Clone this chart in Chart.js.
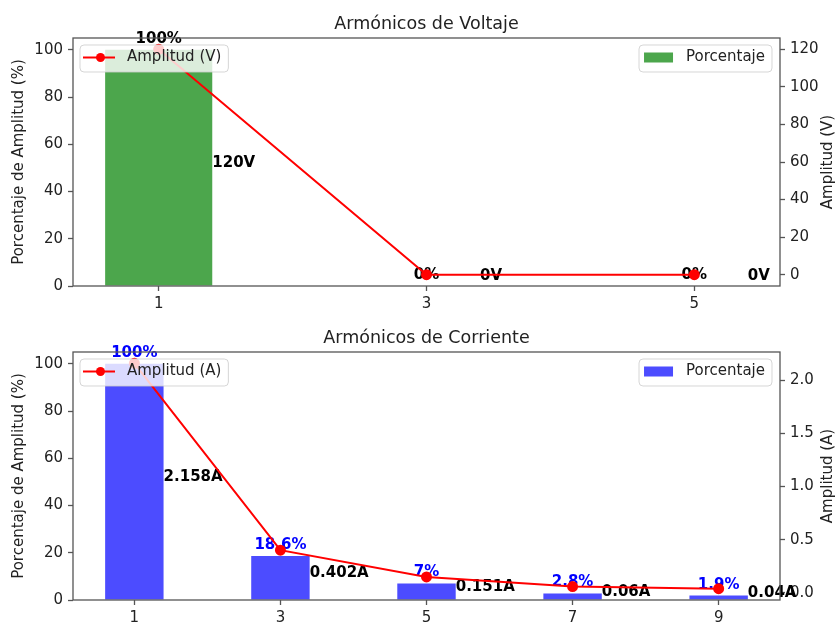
<!DOCTYPE html>
<html>
<head>
<meta charset="utf-8">
<script src="https://cdn.jsdelivr.net/npm/chart.js@4/dist/chart.umd.min.js"></script>
<style>
html,body{margin:0;padding:0;background:#fff;}
#wrap{position:relative;width:835px;height:622px;overflow:hidden;background:#fff;}
canvas{position:absolute;left:0;display:block;}
</style>
</head>
<body>
<div id="wrap">
  <canvas id="c1" width="835" height="311" style="top:0"></canvas>
  <canvas id="c2" width="835" height="311" style="top:311px"></canvas>
</div>
<script>
// ---------- data ----------
const voltHarmonics = [1, 3, 5];
const voltPercent   = [100, 0, 0];
const voltAmplitude = [120, 0, 0];
const voltTicksLeft  = [0, 20, 40, 60, 80, 100];
const voltTicksRight = [0, 20, 40, 60, 80, 100, 120];

const currHarmonics = [1, 3, 5, 7, 9];
const currPercent   = [100, 18.6, 7, 2.8, 1.9];
const currAmplitude = [2.158, 0.402, 0.151, 0.06, 0.04];
const currTicksLeft  = [0, 20, 40, 60, 80, 100];
const currTicksRight = [0, 0.5, 1.0, 1.5, 2.0];

const FONT = "'DejaVu Sans', 'Liberation Sans', sans-serif";
Chart.defaults.font.family = FONT;
Chart.defaults.font.size = 15;
Chart.defaults.color = '#222';

function roundRect(ctx, x, y, w, h, r) {
  ctx.beginPath();
  ctx.moveTo(x + r, y);
  ctx.lineTo(x + w - r, y);
  ctx.quadraticCurveTo(x + w, y, x + w, y + r);
  ctx.lineTo(x + w, y + h - r);
  ctx.quadraticCurveTo(x + w, y + h, x + w - r, y + h);
  ctx.lineTo(x + r, y + h);
  ctx.quadraticCurveTo(x, y + h, x, y + h - r);
  ctx.lineTo(x, y + r);
  ctx.quadraticCurveTo(x, y, x + r, y);
  ctx.closePath();
}

const mplPlugin = {
  id: 'mpl',
  beforeDatasetDraw(chart, args, opts) {
    if (args.index !== 0) return; // draw labels just before the line (on top of bars)
    const ctx = chart.ctx;
    const xs = chart.scales.x, ys = chart.scales.y;
    ctx.save();
    ctx.font = 'bold 15px ' + FONT;
    ctx.textBaseline = 'alphabetic';
    opts.x.forEach((xv, i) => {
      const px = xs.getPixelForValue(xv);
      const top = ys.getPixelForValue(opts.pct[i]);
      ctx.fillStyle = opts.pctColor;
      ctx.textAlign = 'center';
      ctx.fillText(opts.pct[i] + '%', px, top - 7);
      ctx.fillStyle = '#000';
      ctx.textAlign = 'left';
      const lx = xs.getPixelForValue(xv + 0.4);
      const ly = Math.min(ys.getPixelForValue(opts.pct[i] / 2) - 1, ys.getPixelForValue(0) - opts.minGap);
      ctx.fillText(opts.amp[i] + opts.unit, lx, ly);
    });
    ctx.restore();
  },
  afterDraw(chart, args, opts) {
    const ctx = chart.ctx;
    const a = chart.chartArea;
    ctx.save();
    // frame
    ctx.strokeStyle = '#555';
    ctx.lineWidth = 1.3;
    ctx.strokeRect(a.left, a.top, a.right - a.left, a.bottom - a.top);
    // title
    ctx.fillStyle = '#222';
    ctx.font = '17.5px ' + FONT;
    ctx.textAlign = 'center';
    ctx.textBaseline = 'alphabetic';
    ctx.fillText(opts.title, (a.left + a.right) / 2, a.top - 9);
    // axis titles
    const midY = (a.top + a.bottom) / 2;
    ctx.font = '15px ' + FONT;
    ctx.save();
    ctx.translate(23, midY);
    ctx.rotate(-Math.PI / 2);
    ctx.fillText('Porcentaje de Amplitud (%)', 0, 0);
    ctx.restore();
    ctx.save();
    ctx.translate(832, midY);
    ctx.rotate(-Math.PI / 2);
    ctx.fillText(opts.rightTitle, 0, 0);
    ctx.restore();

    // legends
    ctx.font = '15px ' + FONT;
    ctx.textAlign = 'left';
    ctx.textBaseline = 'middle';
    const bh = 27;
    // left legend (line)
    let tw = ctx.measureText(opts.lineLabel).width;
    let bx = a.left + 7, by = a.top + 7, bw = 47 + tw + 7;
    roundRect(ctx, bx, by, bw, bh, 4);
    ctx.fillStyle = 'rgba(255,255,255,0.8)';
    ctx.fill();
    ctx.strokeStyle = 'rgba(204,204,204,0.8)';
    ctx.lineWidth = 1;
    ctx.stroke();
    const ly = by + 12.5;
    ctx.strokeStyle = '#ff0000';
    ctx.lineWidth = 2;
    ctx.beginPath();
    ctx.moveTo(bx + 3, ly);
    ctx.lineTo(bx + 35, ly);
    ctx.stroke();
    ctx.fillStyle = '#ff0000';
    ctx.beginPath();
    ctx.arc(bx + 20.5, ly, 4.5, 0, Math.PI * 2);
    ctx.fill();
    ctx.fillStyle = '#222';
    ctx.fillText(opts.lineLabel, bx + 47, ly);
    // right legend (bar)
    tw = ctx.measureText('Porcentaje').width;
    bw = 47 + tw + 7;
    bx = a.right - 8 - bw;
    roundRect(ctx, bx, by, bw, bh, 4);
    ctx.fillStyle = 'rgba(255,255,255,0.8)';
    ctx.fill();
    ctx.strokeStyle = 'rgba(204,204,204,0.8)';
    ctx.lineWidth = 1;
    ctx.stroke();
    ctx.fillStyle = opts.barColor;
    ctx.fillRect(bx + 5, ly - 5, 29, 10);
    ctx.fillStyle = '#222';
    ctx.fillText('Porcentaje', bx + 47, ly);
    ctx.restore();
  }
};

function build(id, o) {
  const x0 = o.x[0] - 0.4, x1 = o.x[o.x.length - 1] + 0.4;
  const xm = 0.05 * (x1 - x0);
  const aMin = Math.min(...o.amp), aMax = Math.max(...o.amp);
  const am = 0.05 * (aMax - aMin);
  const pMax = Math.max(...o.pct);
  const tickGrid = { drawOnChartArea: false, drawTicks: true, tickLength: 5, tickColor: '#555', tickWidth: 1.3, offset: false };
  return new Chart(document.getElementById(id), {
    type: 'bar',
    data: {
      datasets: [
        {
          type: 'line',
          label: o.lineLabel,
          data: o.x.map((x, i) => ({ x: x, y: o.amp[i] })),
          yAxisID: 'y1',
          borderColor: '#ff0000',
          backgroundColor: '#ff0000',
          pointBackgroundColor: '#ff0000',
          pointBorderColor: '#ff0000',
          borderWidth: 2,
          pointRadius: 4.5,
          pointHoverRadius: 4.5,
          tension: 0
        },
        {
          type: 'bar',
          label: 'Porcentaje',
          data: o.x.map((x, i) => ({ x: x, y: o.pct[i] })),
          yAxisID: 'y',
          backgroundColor: o.barColor,
          borderWidth: 0,
          categoryPercentage: 1,
          barPercentage: 0.4
        }
      ]
    },
    options: {
      responsive: false,
      animation: false,
      events: [],
      layout: { padding: { top: o.padTop, left: 0, right: 0, bottom: 0 } },
      plugins: {
        legend: { display: false },
        tooltip: { enabled: false },
        title: { display: false },
        mpl: {
          title: o.title, rightTitle: o.rightTitle, lineLabel: o.lineLabel,
          barColor: o.barColor, pctColor: o.pctColor, unit: o.unit,
          x: o.x, pct: o.pct, amp: o.amp, minGap: o.minGap
        }
      },
      scales: {
        x: {
          type: 'linear',
          min: x0 - xm,
          max: x1 + xm,
          offset: false,
          afterBuildTicks: s => { s.ticks = o.x.map(v => ({ value: v })); },
          afterFit: s => { s.height = o.xAxisH; s.paddingLeft = 0; s.paddingRight = 0; },
          ticks: { color: '#222', padding: 4, autoSkip: false, maxRotation: 0, font: { size: 15 }, callback: v => String(v) },
          grid: tickGrid,
          border: { display: false }
        },
        y: {
          type: 'linear',
          position: 'left',
          min: 0,
          max: pMax * 1.05,
          afterBuildTicks: s => { s.ticks = o.leftTicks.map(v => ({ value: v })); },
          afterFit: s => { s.width = 73; s.paddingTop = 0; s.paddingBottom = 0; },
          ticks: { color: '#222', padding: 5, autoSkip: false, font: { size: 15 }, callback: v => String(v) },
          grid: tickGrid,
          border: { display: false }
        },
        y1: {
          type: 'linear',
          position: 'right',
          min: aMin - am,
          max: aMax + am,
          afterBuildTicks: s => { s.ticks = o.rightTicks.map(v => ({ value: v })); },
          afterFit: s => { s.width = 55; s.paddingTop = 0; s.paddingBottom = 0; },
          ticks: { color: '#222', padding: 5, autoSkip: false, font: { size: 15 }, callback: o.rightFmt },
          grid: tickGrid,
          border: { display: false }
        }
      }
    },
    plugins: [mplPlugin]
  });
}

build('c1', {
  x: voltHarmonics, pct: voltPercent, amp: voltAmplitude,
  leftTicks: voltTicksLeft, rightTicks: voltTicksRight,
  rightFmt: v => String(v),
  title: 'Armónicos de Voltaje', rightTitle: 'Amplitud (V)', lineLabel: 'Amplitud (V)',
  barColor: 'rgba(0,128,0,0.7)', pctColor: '#000', unit: 'V',
  padTop: 38, xAxisH: 25, minGap: 6
});

build('c2', {
  x: currHarmonics, pct: currPercent, amp: currAmplitude,
  leftTicks: currTicksLeft, rightTicks: currTicksRight,
  rightFmt: v => Number(v).toFixed(1),
  title: 'Armónicos de Corriente', rightTitle: 'Amplitud (A)', lineLabel: 'Amplitud (A)',
  barColor: 'rgba(0,0,255,0.7)', pctColor: '#0000ff', unit: 'A',
  padTop: 41, xAxisH: 22, minGap: 0
});
</script>
</body>
</html>
